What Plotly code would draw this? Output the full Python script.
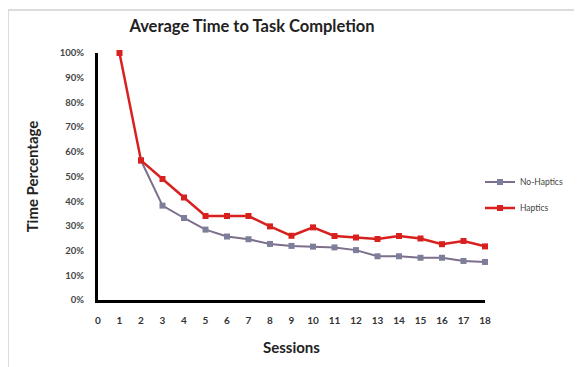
import plotly.graph_objects as go

sessions_h = list(range(1, 19))
haptics = [100, 56.5, 49, 41.5, 34, 34, 34, 29.8, 26, 29.4, 25.9, 25.3, 24.7, 25.9, 24.9, 22.6, 23.9, 21.7]
sessions_n = list(range(2, 19))
no_haptics = [56.5, 38.2, 33.2, 28.5, 25.7, 24.6, 22.7, 21.9, 21.6, 21.3, 20.2, 17.7, 17.7, 17.1, 17.1, 15.8, 15.4]
x_ticks = list(range(0, 19))
y_ticks = [0, 10, 20, 30, 40, 50, 60, 70, 80, 90, 100]
y_labels = [f"{v}%" for v in y_ticks]

FONT = "Lato"
W, H = 574, 359  # page body has 8px margin
OFF = 8

fig = go.Figure()
fig.add_trace(go.Scatter(
    x=sessions_n, y=no_haptics, name="No-Haptics", mode="lines+markers",
    legendgroup="a",
    line=dict(color="#7d6f8c", width=2),
    marker=dict(symbol="square", size=6, color="#7d7f9a"),
    cliponaxis=False))
fig.add_trace(go.Scatter(
    x=sessions_h, y=haptics, name="Haptics", mode="lines+markers",
    legendgroup="b",
    line=dict(color="#d8201e", width=2.5),
    marker=dict(symbol="square", size=6, color="#d8201e"),
    cliponaxis=False))

L, T, B = 98 - OFF, 53 - OFF, 300 - OFF
R = 485 - OFF
fig.update_layout(
    width=W, height=H,
    margin=dict(l=L, r=W - R, t=T, b=H - B, autoexpand=False),
    paper_bgcolor="white", plot_bgcolor="white",
    font=dict(family=FONT, color="#333333"),
    title=dict(text="<b>Average Time to Task Completion</b>", x=(252 - OFF) / W, xanchor="center",
               y=1 - (26 - OFF) / H, yanchor="middle", font=dict(size=16.5, color="#222222", family=FONT)),
    xaxis=dict(range=[0, 18], tickvals=x_ticks, ticktext=[f"<b>{t}</b>" for t in x_ticks],
               showgrid=False, zeroline=False, showline=True, linecolor="black", linewidth=3,
               ticks="", ticklabelstandoff=9, tickfont=dict(size=10, color="#333333"),
               automargin=False,
               title=dict(text="<b>Sessions</b>", font=dict(size=15, color="#222222"), standoff=18)),
    yaxis=dict(range=[0, 100], tickvals=y_ticks, ticktext=[f"<b>{t}</b>" for t in y_labels],
               showgrid=False, zeroline=False, showline=True, linecolor="black", linewidth=3,
               ticks="", ticklabelstandoff=9, tickfont=dict(size=9.5, color="#444444"),
               automargin=False,
               title=dict(text="<b>Time Percentage</b>", font=dict(size=15, color="#222222"), standoff=18)),
    legend=dict(x=(480 - 98) / 387, y=(300 - 195) / 247, xanchor="left", yanchor="middle",
                font=dict(size=8.5, color="#444444"), bgcolor="rgba(0,0,0,0)",
                tracegroupgap=7, itemwidth=30),
    showlegend=True,
)

pw, ph = R - L, B - T
bx = (0 - L) / pw
by = (B - 2) / ph
fig.add_shape(type="line", xref="paper", yref="paper", x0=bx, x1=1.5, y0=by, y1=by,
              line=dict(color="#d0d0d0", width=1.5))
fig.add_shape(type="line", xref="paper", yref="paper", x0=bx, x1=bx, y0=by, y1=-0.5,
              line=dict(color="#d0d0d0", width=1.5))

fig.write_html("out.html")
